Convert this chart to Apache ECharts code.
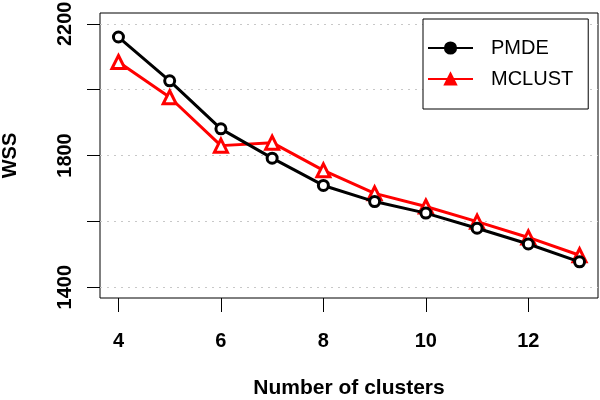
<!DOCTYPE html>
<html><head><meta charset="utf-8">
<script src="https://cdn.jsdelivr.net/npm/echarts@6/dist/echarts.min.js"></script>
<style>html,body{margin:0;padding:0;background:#fff}#c{width:600px;height:400px}</style>
</head><body><div id="c"></div>
<script>
const clusters = [4, 5, 6, 7, 8, 9, 10, 11, 12, 13];
const pmde = [2160, 2027, 1881, 1792, 1709, 1660, 1625, 1579, 1531, 1477];
const mclust = [2084, 1977, 1830, 1839, 1755, 1685, 1645, 1599, 1551, 1497];
const xTicks = [4, 6, 8, 10, 12];
const yTicks = [1400, 1600, 1800, 2000, 2200];
const yLabels = [1400, 1800, 2200];

const FONT = 'Liberation Sans';
const chart = echarts.init(document.getElementById('c'), null, {renderer: 'canvas'});
chart.setOption({
  animation: false,
  backgroundColor: '#fff',
  grid: {left: 100, right: 2, top: 13, bottom: 102, containLabel: false, outerBoundsMode: 'none', show: true, borderColor: '#000', borderWidth: 1, backgroundColor: 'transparent'},
  legend: {
    orient: 'vertical', left: 423, top: 19,
    padding: [19, 15, 20, 4],
    itemWidth: 45, itemHeight: 14, itemGap: 11,
    backgroundColor: '#fff', borderColor: '#000', borderWidth: 1, borderRadius: 0,
    textStyle: {fontFamily: FONT, fontSize: 20, color: '#000', padding: [0, 0, 0, 13]},
    data: [
      {name: 'PMDE', itemStyle: {color: '#000', borderColor: '#000'}},
      {name: 'MCLUST', itemStyle: {color: '#f00', borderColor: '#f00'}}
    ]
  },
  xAxis: {
    type: 'value', min: 3.64, max: 13.36,
    name: 'Number of clusters', nameLocation: 'middle', nameGap: 80,
    nameTextStyle: {fontFamily: FONT, fontSize: 21, fontWeight: 'bold', color: '#000'},
    axisLine: {show: false},
    axisTick: {show: true, length: 14, lineStyle: {color: '#000', width: 1}, customValues: xTicks},
    axisLabel: {show: true, customValues: xTicks, margin: 33, fontFamily: FONT, fontSize: 20, fontWeight: 'bold', color: '#000'},
    splitLine: {show: false}
  },
  yAxis: {
    type: 'value', min: 1367, max: 2233,
    name: 'WSS', nameLocation: 'middle', nameGap: 80, nameRotate: 90,
    nameTextStyle: {fontFamily: FONT, fontSize: 20, fontWeight: 'bold', color: '#000'},
    axisLine: {show: false},
    axisTick: {show: true, length: 13, lineStyle: {color: '#000', width: 1}, customValues: yTicks},
    axisLabel: {show: true, customValues: yLabels, formatter: v => String(v), rotate: 90, margin: 25, fontFamily: FONT, fontSize: 20, fontWeight: 'bold', color: '#000'},
    splitLine: {show: true, lineStyle: {color: '#c8c8c8', type: [2, 5], width: 1}}
  },
  series: [
    {
      name: 'PMDE', type: 'line',
      data: clusters.map((c, i) => [c, pmde[i]]),
      symbol: 'circle', symbolSize: 10, z: 3,
      lineStyle: {color: '#000', width: 3},
      itemStyle: {color: '#fff', borderColor: '#000', borderWidth: 3}
    },
    {
      name: 'MCLUST', type: 'line',
      data: clusters.map((c, i) => [c, mclust[i]]),
      symbol: 'triangle', symbolSize: 13, z: 2,
      lineStyle: {color: '#f00', width: 3},
      itemStyle: {color: '#fff', borderColor: '#f00', borderWidth: 3}
    }
  ]
});
</script></body></html>
